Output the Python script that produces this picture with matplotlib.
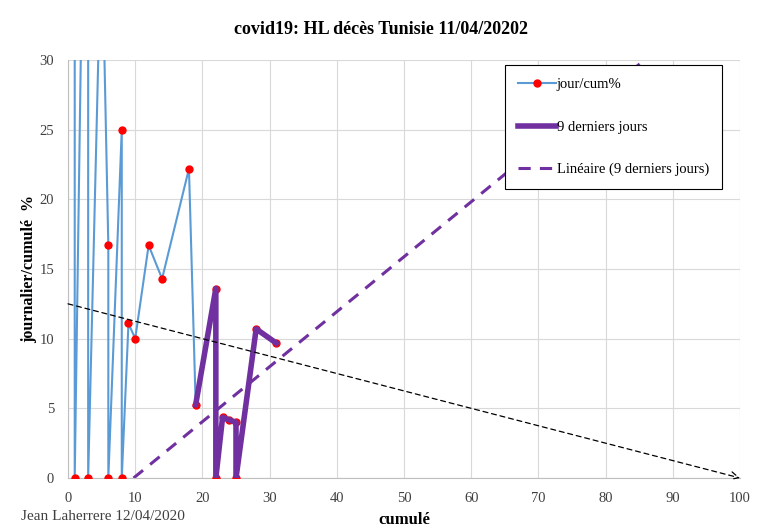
#covid19 HL deces Tunisie - daily/cumulative vs cumulative deaths

import numpy as np
import matplotlib.pyplot as plt

plt.rcParams['font.family'] = ['Liberation Serif', 'DejaVu Serif']

# all days: cumulative deaths and daily/cumulative %
cumul = [1, 1, 3, 3, 5, 6, 6, 8, 8, 9, 10, 12, 14, 18, 19, 22, 22, 23, 24, 25, 25, 28, 31]
jour_cum = [100, 0, 66.7, 0, 40, 16.7, 0, 25, 0, 11.1, 10, 16.7, 14.3, 22.2, 5.26,
            13.6, 0, 4.35, 4.17, 4.0, 0, 10.7, 9.68]

# last 9 days
cumul_9 = [19, 22, 22, 23, 24, 25, 25, 28, 31]
jour_cum_9 = [5.26, 13.6, 0, 4.35, 4.17, 4.0, 0, 10.7, 9.68]

# hand drawn HL line
hl_x = [0, 100]
hl_y = [12.5, 0]

fig = plt.figure(figsize=(7.63, 5.30), dpi=100)
ax = fig.add_axes([68/763, 1 - 478/530, 672/763, 418/530])

ax.plot(cumul, jour_cum, color='#5B9BD5', lw=1.5, marker='o', markersize=5,
        markerfacecolor='red', markeredgecolor='red', label='jour/cum%', zorder=3)
ax.plot(cumul_9, jour_cum_9, color='#7030A0', lw=4, label='9 derniers jours', zorder=4)

# linear trend of the last 9 days
slope, intercept = np.polyfit(cumul_9, jour_cum_9, 1)
x0 = -intercept / slope
xt = np.array([x0, 100])
ax.plot(xt, slope * xt + intercept, color='#7030A0', lw=2.2, ls=(0, (4, 3)),
        label='Linéaire (9 derniers jours)', zorder=2)

ax.annotate('', xy=(hl_x[1], hl_y[1]), xytext=(hl_x[0], hl_y[0]),
            arrowprops=dict(arrowstyle='->', color='black', lw=0.9, ls=(0, (4, 3)),
                            shrinkA=0, shrinkB=0, mutation_scale=14), zorder=5)

ax.set_xlim(0, 100)
ax.set_ylim(0, 30)
ax.set_xticks(np.arange(0, 101, 10))
ax.set_yticks(np.arange(0, 31, 5))
ax.grid(True, color='#D9D9D9', lw=0.8)
ax.set_axisbelow(True)
ax.tick_params(length=0, labelsize=10.5, colors='#404040', pad=10)
for s in ['top', 'right']:
    ax.spines[s].set_visible(False)
for s in ['left', 'bottom']:
    ax.spines[s].set_color('#BFBFBF')

ax.set_xlabel('cumulé', fontsize=12, fontweight='bold', labelpad=5)
ax.set_ylabel('journalier/cumulé  %', fontsize=11.5, fontweight='bold', labelpad=2)
fig.text(0.5, 1 - 30/530, 'covid19: HL décès Tunisie 11/04/20202', ha='center',
         va='center', fontsize=13, fontweight='bold')
fig.text(0.027, 0.018, 'Jean Laherrere 12/04/2020', fontsize=11, color='#404040')

leg = ax.legend(loc='upper left', bbox_to_anchor=(437/672, 1 - 5/418), fontsize=10.5,
                labelspacing=2.0, handlelength=2.6, handletextpad=0.05,
                borderpad=0.9, borderaxespad=0, fancybox=False, framealpha=1)
leg.get_frame().set_edgecolor('black')
leg.get_frame().set_linewidth(0.8)

plt.savefig('out.png', dpi=100)
